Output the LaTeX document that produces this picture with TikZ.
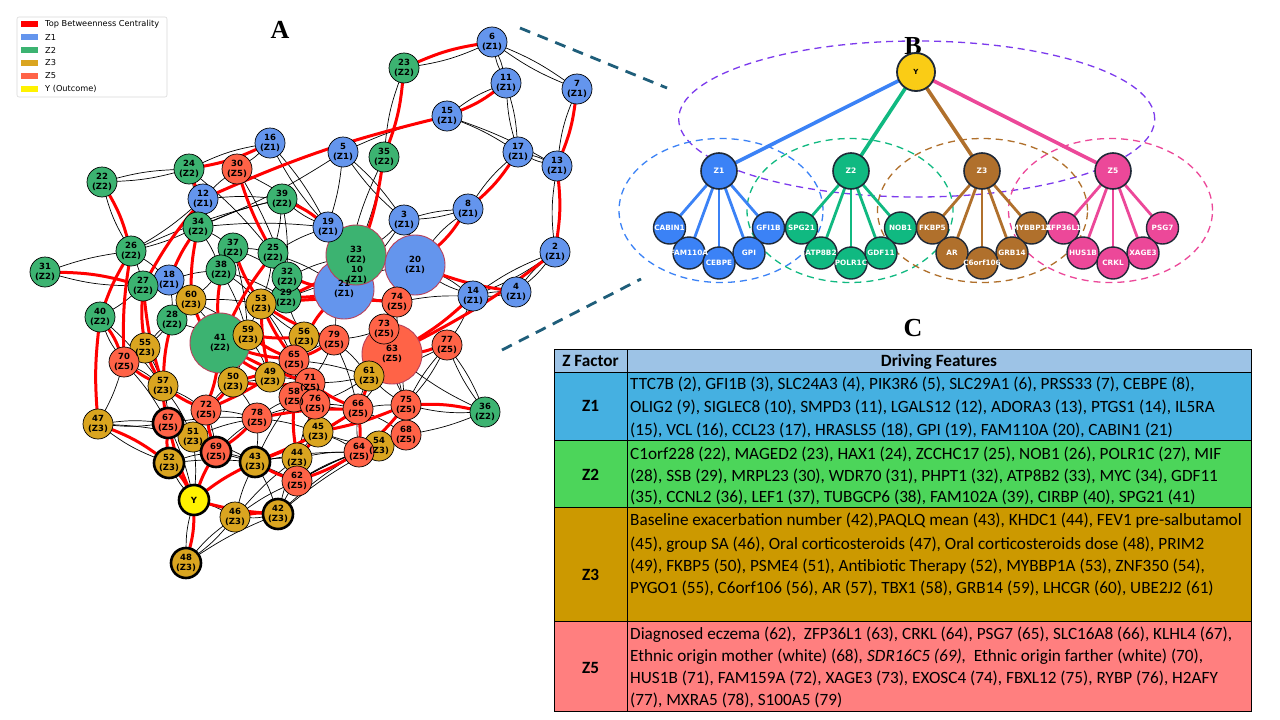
\documentclass[tikz,border=0pt]{standalone}
\usepackage{fontspec}
\setmainfont{Liberation Serif}
\newfontfamily\dejav{DejaVu Sans}
\newfontfamily\carl{Carlito}
\usetikzlibrary{shapes.geometric}
\definecolor{zone}{HTML}{6495ED}
\definecolor{ztwo}{HTML}{3CB371}
\definecolor{zthree}{HTML}{DAA520}
\definecolor{zfive}{HTML}{FF6347}
\definecolor{bigedge}{HTML}{B8405A}
\definecolor{bone}{HTML}{3B82F6}
\definecolor{btwo}{HTML}{10B981}
\definecolor{bthree}{HTML}{B0702C}
\definecolor{bfive}{HTML}{EC4899}
\definecolor{byel}{HTML}{FACC15}
\definecolor{bpurp}{HTML}{7C3AED}
\definecolor{bdark}{HTML}{1F2937}
\definecolor{connteal}{HTML}{1F5E7A}
\definecolor{thead}{HTML}{9DC3E6}
\definecolor{tone}{HTML}{45B0E1}
\definecolor{ttwo}{HTML}{4CD55A}
\definecolor{tthree}{HTML}{CC9900}
\definecolor{tfive}{HTML}{FF7F7F}
\pgfdeclarelayer{back}
\pgfdeclarelayer{bg}
\pgfsetlayers{back,bg,main}
\tikzset{
  nb/.style={circle, draw=black, line width=0.7pt, minimum size=30pt, inner sep=0pt, outer sep=0pt},
  bign/.style={nb, minimum size=60pt, draw=bigedge, line width=0.9pt},
  ntext/.style={font=\dejav\bfseries\fontsize{8.5}{9.4}\selectfont, align=center, inner sep=0pt},
  bl/.style={draw=black, line width=0.7pt},
  rd/.style={draw=red, line width=3pt},
  legtext/.style={font=\dejav\fontsize{8.2}{9}\selectfont, anchor=west, inner sep=0pt},
  panlet/.style={font=\bfseries\fontsize{26}{28}\selectfont, inner sep=0pt},
  bcirc/.style={circle, draw=bdark, line width=1.6pt, inner sep=0pt, outer sep=0pt},
  bleaf/.style={bcirc, minimum size=32pt, line width=1.4pt},
  bzn/.style={bcirc, minimum size=36pt},
  bltext/.style={font=\dejav\bfseries\fontsize{7.3}{8}\selectfont, text=white, inner sep=0pt},
  bell/.style={ellipse, line width=1.3pt, dash pattern=on 7pt off 5pt, inner sep=0pt},
  conn/.style={draw=connteal, line width=2.8pt, dash pattern=on 11pt off 8pt},
  ttext/.style={font=\carl\fontsize{17.2}{20}\selectfont, anchor=base west, inner sep=0pt},
  thtext/.style={font=\carl\bfseries\fontsize{17.2}{20}\selectfont, anchor=base, inner sep=0pt},
  tbl/.style={draw=black, line width=1pt}
}
\begin{document}
\begin{tikzpicture}[x=1pt,y=-1pt]
\useasboundingbox (0,0) rectangle (1280,720);
\begin{pgfonlayer}{back}
\fill[white] (0,0) rectangle (1280,720);
\end{pgfonlayer}

% ---------------- Panel A : legend ----------------
\node[draw=gray!30, line width=0.6pt, fill=white, rounded corners=2pt, minimum width=150pt, minimum height=80pt, inner sep=0pt] (legbox) at (92,57) {};
\foreach \i/\c/\t in {0/red/Top Betweenness Centrality, 1/zone/Z1, 2/ztwo/Z2, 3/zthree/Z3, 4/zfive/Z5, 5/yellow/Y (Outcome)}{
  \node[fill=\c, minimum width=17.6pt, minimum height=6pt, inner sep=0pt] (legp\i) at (29.5,24.3+12.9*\i) {};
  \node[legtext] (legt\i) at (45,24.3+12.9*\i) {\t};
}
\node[panlet] (letA) at (280,30) {A};
\node[panlet] (letB) at (913,46) {B};
\node[panlet] (letC) at (913,328) {C};

% ---------------- Panel A : nodes ----------------
\node[nb, fill=zone] (n10) at (357,275) {};
\node[bign, fill=zone] (n21) at (344,289) {};
\node[bign, fill=ztwo] (n33) at (356,255) {};
\node[bign, fill=zone] (n20) at (415,265) {};
\node[bign, fill=ztwo] (n41) at (220,343) {};
\node[bign, fill=zfive] (n63) at (392,354) {};
\foreach \n/\x/\y/\c/\w in {
 2/555/252/zone/0.7, 3/404/220/zone/0.7, 4/516/292/zone/0.7, 5/343/152/zone/0.7,
 6/492/42/zone/0.7, 7/577/89/zone/0.7, 8/468/209/zone/0.7, 11/506/83/zone/0.7,
 12/203/199/zone/0.7, 13/557/166/zone/0.7, 14/473/296/zone/0.7, 15/447/116/zone/0.7,
 16/270/143/zone/0.7, 17/518/152/zone/0.7, 18/169/280/zone/0.7, 19/328/227/zone/0.7,
 22/102/182/ztwo/0.7, 23/404/68/ztwo/0.7, 24/189/169/ztwo/0.7, 25/273/253/ztwo/0.7,
 26/131/251/ztwo/0.7, 27/143/286/ztwo/0.7, 28/172/320/ztwo/0.7, 29/286/298/ztwo/0.7,
 30/237/169/zfive/0.7, 31/45/272/ztwo/0.7, 32/287/277/ztwo/0.7, 34/198/227/ztwo/0.7,
 35/384/157/ztwo/0.7, 36/485/412/ztwo/0.7, 37/233/248/ztwo/0.7, 38/221/270/ztwo/0.7,
 39/282/199/ztwo/0.7, 40/100/317/ztwo/0.7, 42/278/514/zthree/2.6, 43/255/462/zthree/2.6,
 44/297/458/zthree/0.7, 45/318/432/zthree/0.7, 46/235/517/zthree/0.7, 47/98/424/zthree/0.7,
 48/186/563/zthree/2.6, 49/270/377/zthree/0.7, 50/233/382/zthree/0.7, 51/193/437/zthree/0.7,
 52/169/463/zthree/2.6, 53/261/304/zthree/0.7, 54/379/446/zthree/0.7, 55/145/348/zthree/0.7,
 56/304/337/zthree/0.7, 57/163/386/zthree/0.7, 59/248/335/zthree/0.7, 60/191/300/zthree/0.7,
 61/369/376/zthree/0.7, 62/297/481/zfive/0.7, 64/359/452/zfive/0.7, 65/294/360/zfive/0.7,
 66/358/409/zfive/0.7, 67/168/423/zfive/2.6, 68/406/435/zfive/0.7, 69/216/452/zfive/2.6,
 70/124/362/zfive/0.7, 71/310/383/zfive/0.7, 58/294/397/zfive/0.7, 72/206/410/zfive/0.7,
 73/384/329/zfive/0.7, 74/397/302/zfive/0.7, 75/406/405/zfive/0.7, 76/315/404/zfive/0.7,
 77/447/345/zfive/0.7, 78/257/418/zfive/0.7, 79/334/340/zfive/0.7, Y/194/500/yellow/2.6}
 \node[nb, fill=\c, line width=\w pt] (n\n) at (\x,\y) {};
\foreach \n/\z in {2/Z1,3/Z1,4/Z1,5/Z1,6/Z1,7/Z1,8/Z1,10/Z1,11/Z1,12/Z1,13/Z1,14/Z1,15/Z1,16/Z1,17/Z1,18/Z1,19/Z1,20/Z1,21/Z1,
 22/Z2,23/Z2,24/Z2,25/Z2,26/Z2,27/Z2,28/Z2,29/Z2,30/Z5,31/Z2,32/Z2,33/Z2,34/Z2,35/Z2,36/Z2,37/Z2,38/Z2,39/Z2,40/Z2,41/Z2,
 42/Z3,43/Z3,44/Z3,45/Z3,46/Z3,47/Z3,48/Z3,49/Z3,50/Z3,51/Z3,52/Z3,53/Z3,54/Z3,55/Z3,56/Z3,57/Z3,58/Z5,59/Z3,60/Z3,61/Z3,
 62/Z5,63/Z5,64/Z5,65/Z5,66/Z5,67/Z5,68/Z5,69/Z5,70/Z5,71/Z5,72/Z5,73/Z5,74/Z5,75/Z5,76/Z5,77/Z5,78/Z5,79/Z5}
 \node[ntext] (t\n) at (n\n) {\n\\(\z)};
\node[ntext] (tY) at (nY) {Y};

% ---------------- Panel A : edges ----------------
\begin{pgfonlayer}{bg}
\foreach \a/\b in {6/11, 6/7, 11/17, 17/13, 8/3, 5/3, 16/19, 22/24, 2/4, 14/4, 77/36, 77/75, 46/48, 47/67, 63/75, 20/14, 2/14}{
  \draw[bl] (n\a) to[bend left=6] (n\b);
  \draw[bl] (n\a) to[bend right=6] (n\b);
}
\foreach \a/\b in {15/17, 15/13, 5/15, 5/34, 3/20, 3/21, 35/33, 5/19, 24/34, 24/25, 30/32, 30/19, 16/30, 12/39,
 34/39, 34/26, 34/37, 34/38, 34/19, 26/27, 26/39, 27/18, 27/40, 18/28, 18/60, 18/38, 37/38, 37/25, 37/32,
 38/60, 38/53, 38/29, 25/32, 25/19, 39/32, 39/25, 28/41, 28/55, 60/41, 60/53, 26/18, 40/57, 31/26, 70/57,
 57/51, 47/51, 55/57, 67/51, 51/69, 51/Y, 52/69, 52/43, 69/43, 43/42, 42/62, 42/64, 42/44, 43/44, 46/43,
 46/44, 46/62, Y/46, 69/78, 67/78, 51/43, 72/69, 72/51, 72/78, 72/50, 78/43, 78/58, 78/45, 43/64, 44/64,
 44/45, 62/54, 42/54, 62/68, 64/54, 54/68, 68/75, 68/64, 66/75, 66/76, 66/45, 66/61, 61/63, 63/66, 63/68,
 75/61, 77/63, 77/61, 74/63, 74/14, 74/20, 74/21, 73/79, 73/74, 79/56, 79/71, 79/21, 79/61, 79/66, 56/65,
 56/53, 56/29, 56/21, 59/53, 59/49, 59/50, 49/50, 49/71, 49/58, 65/71, 71/58, 71/76, 58/76, 76/45, 76/66,
 65/79, 50/78, 50/72, 41/59, 41/50, 41/72, 53/29, 32/29, 32/33, 29/20, 33/20, 21/33, 19/33, 19/21, 3/33,
 36/68, 36/63, 14/77, 57/72, 57/67, 55/28, 60/59, 70/67, 70/47, 58/45, 65/58, 65/61, 61/71, 61/76, 64/66,
 45/64, 56/79, 53/65, 25/53, 25/21, 37/59, 38/59, 12/24, 12/26, 12/30, 44/66, 44/76, 78/76, 69/62, 43/58,
 51/78, 67/Y, 48/42, 62/64, 75/64, 66/68, 54/45}
  \draw[bl] (n\a) to[bend left=5] (n\b);
\foreach \a/\b in {23/6, 23/35, 11/15, 7/13, 13/2, 17/8, 8/20, 16/24, 39/19, 35/21, 22/26, 31/27, 40/70, 75/36, Y/48, 46/42, 47/52, 52/Y, 55/70}
  \draw[bl] (n\a) to[bend right=7] (n\b);
\foreach \a/\b in {15/12, 20/4, 63/2, 63/14, 30/25, 24/12, 12/27, 34/18, 34/60, 26/40, 26/70, 27/55, 27/57,
 40/47, 38/41, 37/53, 25/41, 32/21, 29/21, 29/33, 28/57, 55/57, 70/57, 41/65, 41/49, 41/71, 59/65, 59/56,
 53/65, 53/49, 56/65, 50/65, 50/71, 49/65, 60/50, 72/41, 72/50, 72/65, 57/72, 45/58, 45/76, 44/45, 43/45,
 43/66, 64/75, 64/66, 62/64, 66/61, 66/78, 63/77, 67/Y, 69/Y, 43/Y, Y/42, 43/62, 69/78, 72/69, 57/67, 67/52,
 53/79, 65/79, 71/66, 61/63, 74/53, 21/56, 20/74, 45/75, 58/44, 71/45, 51/67}
  \draw[rd] (n\a) to[bend right=5] (n\b);
\foreach \a/\b in {23/6, 23/35, 11/15, 7/13, 13/2, 17/8, 8/20, 16/24, 39/19, 35/21, 22/26, 31/27, 40/70, 75/36, Y/48, 46/42, 47/52, 52/Y, 55/70}
  \draw[rd] (n\a) to[bend left=7] (n\b);
\end{pgfonlayer}

% ---------------- connectors A -> B ----------------
\coordinate (ca1) at (520,28);
\coordinate (ca2) at (667,88);
\coordinate (cb1) at (502,350);
\coordinate (cb2) at (641,279);
\draw[conn] (ca1) -- (ca2);
\draw[conn] (cb1) -- (cb2);

% ---------------- Panel B ----------------
\begin{pgfonlayer}{bg}
\node[bell, draw=bpurp, minimum width=476pt, minimum height=156pt] (ellY) at (916.7,119) {};
\node[bell, draw=bone, minimum width=204pt, minimum height=144pt] (ell1) at (721,210.5) {};
\node[bell, draw=btwo, minimum width=206pt, minimum height=144pt] (ell2) at (850,210.5) {};
\node[bell, draw=bthree, minimum width=210pt, minimum height=144pt] (ell3) at (982.5,210.5) {};
\node[bell, draw=bfive, minimum width=204pt, minimum height=144pt] (ell5) at (1110.5,210.5) {};
\end{pgfonlayer}

\node[bcirc, fill=byel, minimum size=38pt, line width=1.8pt] (BY) at (916,72) {};
\node[bzn, fill=bone] (BZ1) at (719,171) {};
\node[bzn, fill=btwo] (BZ2) at (851,171) {};
\node[bzn, fill=bthree] (BZ3) at (982,171) {};
\node[bzn, fill=bfive] (BZ5) at (1113,171) {};
\foreach \g/\px/\c in {1/719/bone, 2/851/btwo, 3/982/bthree, 5/1113/bfive}{
  \node[bleaf, fill=\c] (L\g a) at (\px-49.5,228) {};
  \node[bleaf, fill=\c] (L\g e) at (\px+49.5,228) {};
  \node[bleaf, fill=\c] (L\g b) at (\px-30,253) {};
  \node[bleaf, fill=\c] (L\g d) at (\px+30,253) {};
  \node[bleaf, fill=\c] (L\g c) at (\px,263) {};
}
\begin{pgfonlayer}{bg}
\foreach \g/\c in {1/bone, 2/btwo, 3/bthree, 5/bfive}{
  \draw[draw=\c, line width=3.6pt] (BY) -- (BZ\g);
  \foreach \k in {a,b,c,d,e}
    \draw[draw=\c, line width=2.8pt] (BZ\g) -- (L\g\k);
}
\end{pgfonlayer}
\node[font=\dejav\bfseries\fontsize{7}{8}\selectfont, inner sep=0pt] (BYt) at (BY) {Y};
\foreach \g/\t in {1/Z1, 2/Z2, 3/Z3, 5/Z5}
  \node[bltext, font=\dejav\bfseries\fontsize{7.5}{8}\selectfont] (BZt\g) at (BZ\g) {\t};
\foreach \g/\k/\t in {1/a/CABIN1, 1/b/FAM110A, 1/c/CEBPE, 1/d/GPI, 1/e/GFI1B,
  2/a/SPG21, 2/b/ATP8B2, 2/c/POLR1C, 2/d/GDF11, 2/e/NOB1,
  3/a/FKBP5, 3/b/AR, 3/c/C6orf106, 3/d/GRB14, 3/e/MYBBP1A,
  5/a/ZFP36L1, 5/b/HUS1B, 5/c/CRKL, 5/d/XAGE3, 5/e/PSG7}
  \node[bltext] (LT\g\k) at (L\g\k) {\t};

% ---------------- Panel C : table ----------------
\fill[thead] (554,349) rectangle (1251,372.5);
\fill[tone] (554,372.5) rectangle (1251,440);
\fill[ttwo] (554,440) rectangle (1251,507);
\fill[tthree] (554,507) rectangle (1251,621);
\fill[tfive] (554,621) rectangle (1251,711);
\draw[tbl] (554,349) rectangle (1251,711);
\foreach \yy in {372.5,440,507,621} \draw[tbl] (554,\yy) -- (1251,\yy);
\draw[tbl] (627,349) -- (627,711);

\node[thtext] (hz) at (590.5,366.5) {Z Factor};
\node[thtext] (hd) at (939,366.5) {Driving Features};
\node[thtext] (r1) at (590.5,411.5) {Z1};
\node[thtext] (r2) at (590.5,480.5) {Z2};
\node[thtext] (r3) at (590.5,580.5) {Z3};
\node[thtext] (r5) at (590.5,673) {Z5};

\node[ttext] (l1) at (630,389) {TTC7B (2), GFI1B (3), SLC24A3 (4), PIK3R6 (5), SLC29A1 (6), PRSS33 (7), CEBPE (8),};
\node[ttext] (l2) at (630,412) {OLIG2 (9), SIGLEC8 (10), SMPD3 (11), LGALS12 (12), ADORA3 (13), PTGS1 (14), IL5RA};
\node[ttext] (l3) at (630,435) {(15), VCL (16), CCL23 (17), HRASLS5 (18), GPI (19), FAM110A (20), CABIN1 (21)};
\node[ttext] (l4) at (630,459) {C1orf228 (22), MAGED2 (23), HAX1 (24), ZCCHC17 (25), NOB1 (26), POLR1C (27), MIF};
\node[ttext] (l5) at (630,481) {(28), SSB (29), MRPL23 (30), WDR70 (31), PHPT1 (32), ATP8B2 (33), MYC (34), GDF11};
\node[ttext] (l6) at (630,502.5) {(35), CCNL2 (36), LEF1 (37), TUBGCP6 (38), FAM102A (39), CIRBP (40), SPG21 (41)};
\node[ttext] (l7) at (630,525.5) {Baseline exacerbation number (42),PAQLQ mean (43), KHDC1 (44), FEV1 pre-salbutamol};
\node[ttext] (l8) at (630,549) {(45), group SA (46), Oral corticosteroids (47), Oral corticosteroids dose (48), PRIM2};
\node[ttext] (l9) at (630,571) {(49), FKBP5 (50), PSME4 (51), Antibiotic Therapy (52), MYBBP1A (53), ZNF350 (54),};
\node[ttext] (l10) at (630,593.5) {PYGO1 (55), C6orf106 (56), AR (57), TBX1 (58), GRB14 (59), LHCGR (60), UBE2J2 (61)};
\node[ttext] (l11) at (630,639) {Diagnosed eczema (62),\ \ ZFP36L1 (63), CRKL (64), PSG7 (65), SLC16A8 (66), KLHL4 (67),};
\node[ttext] (l12) at (630,661.5) {Ethnic origin mother (white) (68)\textit{, SDR16C5 (69),}\ \ Ethnic origin farther (white) (70),};
\node[ttext] (l13) at (630,683.5) {HUS1B (71), FAM159A (72), XAGE3 (73), EXOSC4 (74), FBXL12 (75), RYBP (76), H2AFY};
\node[ttext] (l14) at (630,705.5) {(77), MXRA5 (78), S100A5 (79)};
\end{tikzpicture}
\end{document}
